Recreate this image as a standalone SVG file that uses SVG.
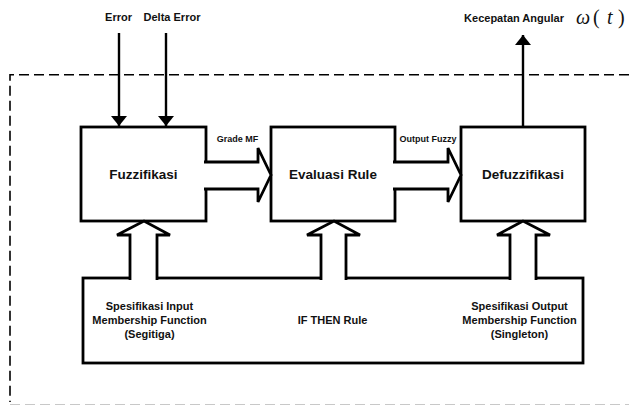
<svg xmlns="http://www.w3.org/2000/svg" width="629" height="406" viewBox="0 0 629 406">
  <style>
    .box { fill: #fff; stroke: #000; stroke-width: 2.8; }
    .fat { fill: #fff; stroke: #000; stroke-width: 2.8; stroke-linejoin: miter; }
    .wire { fill: none; stroke: #000; stroke-width: 2.4; }
    .dash { fill: none; stroke: #000; stroke-width: 1.6; stroke-dasharray: 10 5; }
    .lbl { font-family: "Liberation Sans", Arial, sans-serif; font-weight: bold; fill: #111; text-anchor: middle; }
    .big { font-size: 13.5px; }
    .mid { font-size: 11px; }
    .sml { font-size: 9px; }
    .math { font-family: "Liberation Serif", "Times New Roman", serif; font-size: 20px; fill: #111; }
  </style>
  <defs>
    <marker id="head" viewBox="0 0 10 16" refX="10" refY="8" markerWidth="10" markerHeight="16" markerUnits="userSpaceOnUse" orient="auto">
      <path d="M0,0 L10,8 L0,16 Z" fill="#000"/>
    </marker>
  </defs>

  <rect width="629" height="406" fill="#fff"/>

  <!-- controller boundary -->
  <g id="boundary">
    <path class="dash" d="M629,74.8 H10 V402"/>
    <path d="M10,404.5 H629" fill="none" stroke="#c8c8c8" stroke-width="1.2" stroke-dasharray="10 5"/>
  </g>

  <!-- processing blocks -->
  <g id="fuzzifikasi">
    <rect class="box" x="81" y="127" width="125" height="94"/>
    <text class="lbl big" x="143.5" y="179">Fuzzifikasi</text>
  </g>
  <g id="evaluasi-rule">
    <rect class="box" x="271" y="127" width="124" height="94"/>
    <text class="lbl big" x="333" y="179">Evaluasi Rule</text>
  </g>
  <g id="defuzzifikasi">
    <rect class="box" x="461" y="127" width="124" height="94"/>
    <text class="lbl big" x="523" y="179">Defuzzifikasi</text>
  </g>
  <g id="knowledge-base">
    <rect class="box" x="83" y="278" width="500" height="85"/>
    <text class="lbl mid" x="149.5" y="309.5">Spesifikasi Input</text>
    <text class="lbl mid" x="149.5" y="323.5">Membership Function</text>
    <text class="lbl mid" x="149.5" y="337.5">(Segitiga)</text>
    <text class="lbl mid" x="332.5" y="324">IF THEN Rule</text>
    <text class="lbl mid" x="519.5" y="310">Spesifikasi Output</text>
    <text class="lbl mid" x="519.5" y="324">Membership Function</text>
    <text class="lbl mid" x="519.5" y="338">(Singleton)</text>
  </g>

  <!-- connectors -->
  <g id="connectors">
    <!-- crisp inputs and output -->
    <line class="wire" x1="119" y1="33" x2="119" y2="126" marker-end="url(#head)"/>
    <line class="wire" x1="166" y1="33" x2="166" y2="126" marker-end="url(#head)"/>
    <line class="wire" x1="523" y1="127" x2="523" y2="35" marker-end="url(#head)"/>

    <!-- block-to-block wide arrows -->
    <polyline class="fat" points="204,162 258,162 258,148 271,175 258,202 258,189 204,189"/>
    <polyline class="fat" points="393,162 448,162 448,148 461,175 448,202 448,189 393,189"/>

    <!-- knowledge base feeding each block -->
    <polyline class="fat" points="130,280 130,235 117,235 144,221 170,235 157,235 157,280"/>
    <polyline class="fat" points="321,280 321,235 307,235 334,221 360,235 346,235 346,280"/>
    <polyline class="fat" points="510,280 510,235 497,235 523,221 550,235 536,235 536,280"/>

    <text class="lbl sml" x="237.5" y="142">Grade MF</text>
    <text class="lbl sml" x="428" y="142">Output Fuzzy</text>
  </g>

  <!-- signal names -->
  <g id="signals">
    <text class="lbl mid" x="118.5" y="21">Error</text>
    <text class="lbl mid" x="172" y="21">Delta Error</text>
    <text class="lbl mid" x="514" y="22">Kecepatan Angular</text>
    <text class="math" y="24"><tspan x="576" font-style="italic">ω</tspan><tspan x="593">(</tspan><tspan x="607" font-style="italic">t</tspan><tspan x="618">)</tspan></text>
  </g>
</svg>
